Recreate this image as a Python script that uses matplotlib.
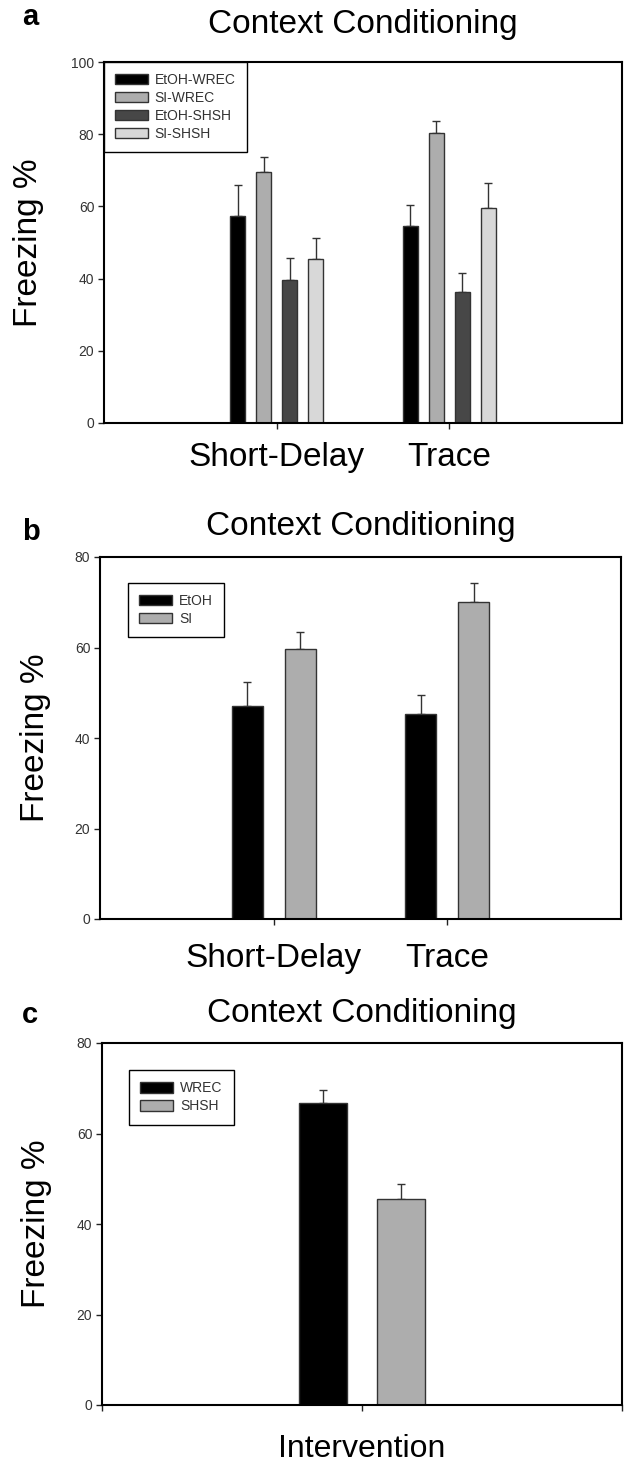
import matplotlib
matplotlib.use("Agg")
import matplotlib.pyplot as plt
import numpy as np

plt.rcParams['font.family'] = ['Liberation Sans', 'DejaVu Sans']

# ---------------- data ----------------
categories_ab = ['Short-Delay', 'Trace']

a_series = ['EtOH-WREC', 'SI-WREC', 'EtOH-SHSH', 'SI-SHSH']
a_etoh_wrec = [57.3, 54.5]
a_etoh_wrec_err = [8.5, 6.0]
a_si_wrec = [69.6, 80.4]
a_si_wrec_err = [4.0, 3.3]
a_etoh_shsh = [39.6, 36.2]
a_etoh_shsh_err = [6.2, 5.4]
a_si_shsh = [45.3, 59.5]
a_si_shsh_err = [5.9, 6.9]

b_series = ['EtOH', 'SI']
b_etoh = [47.1, 45.2]
b_etoh_err = [5.3, 4.2]
b_si = [59.7, 70.1]
b_si_err = [3.8, 4.2]

c_category = 'Intervention'
c_series = ['WREC', 'SHSH']
c_values = [66.7, 45.5]
c_err = [2.9, 3.3]

a_yticks = [0, 20, 40, 60, 80, 100]
bc_yticks = [0, 20, 40, 60, 80]

title_text = 'Context Conditioning'
ylabel_text = 'Freezing %'

# ---------------- layout helpers ----------------
W, H = 624, 1464
fig = plt.figure(figsize=(W / 100, H / 100), dpi=100)


def add_ax(left, top, right, bottom):
    return fig.add_axes([left / W, 1 - bottom / H, (right - left) / W, (bottom - top) / H])


EDGE = '#333333'
TICKC = '#333333'


def style_ax(ax):
    for s in ax.spines.values():
        s.set_linewidth(1.5)
        s.set_color('black')
    ax.tick_params(axis='both', direction='out', length=4, width=1, color='#222222')
    ax.tick_params(axis='y', labelsize=10, labelcolor=TICKC, pad=3)
    ax.tick_params(top=False, right=False)


def draw_bars(ax, centers, offset, width, vals, errs, color, label):
    x = np.asarray(centers, dtype=float) + offset
    bars = ax.bar(x, vals, width=width, color=color, edgecolor=EDGE, linewidth=1,
                  label=label, zorder=2)
    ax.errorbar(x, vals, yerr=[np.zeros(len(errs)), errs], fmt='none', ecolor=EDGE,
                elinewidth=1, capsize=3, capthick=1, zorder=1)
    return bars


def panel_text(letter, ax_left, ax_right, title_base, letter_base, ylab_x, ax_top, ax_bottom):
    cx = (ax_left + ax_right) / 2
    fig.text(cx / W, 1 - title_base / H, title_text, ha='center', va='baseline', fontsize=24)
    fig.text(22 / W, 1 - letter_base / H, letter, ha='left', va='baseline', fontsize=21,
             fontweight='bold')
    fig.text(ylab_x / W, 1 - ((ax_top + ax_bottom) / 2) / H, ylabel_text, rotation=90,
             ha='center', va='center', fontsize=24)


def style_legend(leg):
    leg.get_frame().set_linewidth(1)
    for t in leg.get_texts():
        t.set_color(TICKC)


# ---------------- panel a ----------------
axa = add_ax(104, 62, 622, 423)
style_ax(axa)
ca = np.arange(1, len(categories_ab) + 1)
a_vals = [a_etoh_wrec, a_si_wrec, a_etoh_shsh, a_si_shsh]
a_errs = [a_etoh_wrec_err, a_si_wrec_err, a_etoh_shsh_err, a_si_shsh_err]
a_colors = ['#000000', '#adadad', '#474747', '#d8d8d8']
for i in range(4):
    draw_bars(axa, ca, (i - 1.5) * 0.15, 0.087, a_vals[i], a_errs[i], a_colors[i], a_series[i])
axa.set_xlim(0, 3)
axa.set_ylim(0, 100)
axa.set_yticks(a_yticks)
axa.set_xticks(ca)
axa.set_xticklabels(categories_ab, fontsize=24)
axa.tick_params(axis='x', pad=10)
leg = axa.legend(loc='upper left', bbox_to_anchor=(0, 1), borderaxespad=0, fontsize=10,
                 frameon=True, fancybox=False, edgecolor='black', framealpha=1,
                 handlelength=2.4, handleheight=0.75, handletextpad=0.45,
                 labelspacing=0.28, borderpad=0.8)
style_legend(leg)
panel_text('a', 104, 622, 33, 25, 29, 62, 423)

# ---------------- panel b ----------------
axb = add_ax(100, 557, 621, 919)
style_ax(axb)
cb = np.arange(1, len(categories_ab) + 1)
draw_bars(axb, cb, -0.1525, 0.18, b_etoh, b_etoh_err, '#000000', b_series[0])
draw_bars(axb, cb, 0.1525, 0.18, b_si, b_si_err, '#adadad', b_series[1])
axb.set_xlim(0, 3)
axb.set_ylim(0, 80)
axb.set_yticks(bc_yticks)
axb.set_xticks(cb)
axb.set_xticklabels(categories_ab, fontsize=24)
axb.tick_params(axis='x', pad=13)
leg = axb.legend(loc='upper left', bbox_to_anchor=(0.053, 0.928), borderaxespad=0,
                 fontsize=10, frameon=True, fancybox=False, edgecolor='black', framealpha=1,
                 handlelength=2.4, handleheight=0.75, handletextpad=0.5,
                 labelspacing=0.25, borderpad=0.8)
style_legend(leg)
panel_text('b', 100, 621, 535, 540, 36, 557, 919)

# ---------------- panel c ----------------
axc = add_ax(102, 1043, 622, 1405)
style_ax(axc)
cc = np.array([1.0])
draw_bars(axc, cc, -0.15, 0.185, [c_values[0]], [c_err[0]], '#000000', c_series[0])
draw_bars(axc, cc, 0.15, 0.185, [c_values[1]], [c_err[1]], '#adadad', c_series[1])
axc.set_xlim(0, 2)
axc.set_ylim(0, 80)
axc.set_yticks(bc_yticks)
axc.set_xticks([0, 1, 2])
axc.set_xticklabels(['', c_category, ''], fontsize=23)
axc.tick_params(axis='x', pad=17)
leg = axc.legend(loc='upper left', bbox_to_anchor=(0.0515, 0.925), borderaxespad=0,
                 fontsize=10, frameon=True, fancybox=False, edgecolor='black', framealpha=1,
                 handlelength=2.4, handleheight=0.75, handletextpad=0.5,
                 labelspacing=0.3, borderpad=0.8)
style_legend(leg)
panel_text('c', 102, 622, 1022, 1023, 37, 1043, 1405)

fig.savefig('out.png', dpi=100)
